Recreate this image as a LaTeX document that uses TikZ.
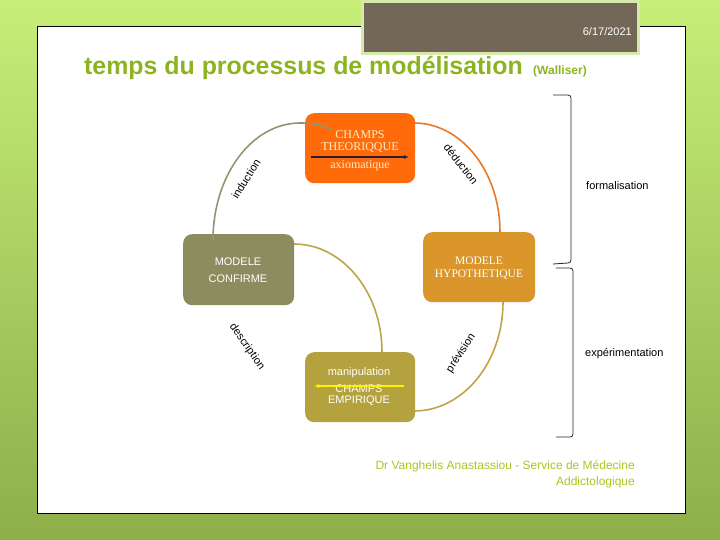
\documentclass[tikz,border=0pt]{standalone}
\usepackage{fontspec}
\setmainfont{Liberation Sans}
\newfontfamily\serifb{Liberation Serif}
\usetikzlibrary{arrows.meta}
\definecolor{bgtop}{HTML}{C6EE78}
\definecolor{bgbot}{HTML}{8EAE4A}
\definecolor{brownbox}{HTML}{736857}
\definecolor{hdrborder}{HTML}{D6E8AA}
\definecolor{titlegreen}{HTML}{8CB420}
\definecolor{footgreen}{HTML}{A8C81E}
\definecolor{orangebox}{HTML}{FF6A0A}
\definecolor{confbox}{HTML}{8C8C5E}
\definecolor{hypbox}{HTML}{DA962A}
\definecolor{empbox}{HTML}{B4A23E}
\definecolor{arcgray}{HTML}{8E9870}
\definecolor{arcorange}{HTML}{E67A2A}
\definecolor{arcgold}{HTML}{C0A448}
\definecolor{theotext}{HTML}{FFECC8}
\definecolor{axiarrow}{HTML}{281E3C}
\tikzset{
  box/.style={rounded corners=9pt, minimum width=110pt, minimum height=70pt, draw=none, align=center, inner sep=0pt},
  arcline/.style={line width=1.6pt},
  lbl/.style={font=\fontsize{11}{12}\selectfont, inner sep=0pt},
  brk/.style={line width=0.8pt, black!85}
}
\begin{document}
\begin{tikzpicture}[x=1pt,y=-1pt]
\useasboundingbox (0,0) rectangle (720,540);
\shade[top color=bgtop, bottom color=bgbot] (0,0) rectangle (720,540);
% white panel
\node[draw=black, line width=0.8pt, fill=white, minimum width=648pt, minimum height=487pt, inner sep=0pt, anchor=north west] (panel) at (37,26) {};
% brown header box
\node[draw=hdrborder, line width=3pt, fill=brownbox, minimum width=276pt, minimum height=52pt, inner sep=0pt, anchor=north west] (hdr) at (361,0) {};
\node[anchor=base east, text=white, font=\fontsize{11}{12}\selectfont, inner sep=0pt] (date) at (632,36) {6/17/2021};
% title
\node[anchor=base west, text=titlegreen, font=\fontsize{24.9}{28}\selectfont\bfseries, inner sep=0pt] (title) at (84,75) {temps du processus de modélisation};
\node[anchor=base west, text=titlegreen, font=\fontsize{12}{14}\selectfont\bfseries, inner sep=0pt] (wal) at (533,75) {(Walliser)};
% boxes
\node[box, fill=orangebox, anchor=north west] (theo) at (305,113) {};
\node[box, fill=confbox, minimum width=111pt, minimum height=71pt, anchor=north west] (conf) at (183,234) {};
\node[box, fill=hypbox, minimum width=112pt, anchor=north west] (hyp) at (423,232) {};
\node[box, fill=empbox, anchor=north west] (emp) at (305,352) {};
% arcs
\draw[arcline, arcgray] (332,130) .. controls (320,124) and (312,123) .. (300,123) arc[start angle=-90, end angle=-180, x radius=87, y radius=117];
\draw[arcline, arcorange] (414,123) arc[start angle=-90, end angle=0, x radius=86, y radius=109];
\draw[arcline, arcgold] (294,244) arc[start angle=-90, end angle=0, x radius=88, y radius=108];
\draw[arcline, arcgold] (503,302) arc[start angle=0, end angle=90, x radius=89, y radius=109];
% box texts
\node[text=theotext, font=\serifb\fontsize{12}{12.5}\selectfont, align=center, inner sep=0pt] (theot) at (360,141.5) {CHAMPS\\THEORIQQUE};
\node[text=theotext, font=\serifb\fontsize{12}{12}\selectfont, inner sep=0pt] (axio) at (360,166) {axiomatique};
\coordinate (axA) at (311,157);
\coordinate (axB) at (409,157);
\draw[line width=1.3pt, axiarrow, -{Latex[length=5pt,width=4pt]}] (axA) -- (axB);

\node[text=white, font=\fontsize{11}{17}\selectfont, align=center, inner sep=0pt] (conft) at (238,270) {MODELE\\CONFIRME};
\node[text=white, font=\serifb\fontsize{11.5}{12.5}\selectfont, align=center, inner sep=0pt] (hypt) at (479,268) {MODELE\\HYPOTHETIQUE};

\node[text=white, font=\fontsize{11}{12}\selectfont, inner sep=0pt] (manip) at (359,373) {manipulation};
\node[text=white, font=\fontsize{11}{11}\selectfont, align=center, inner sep=0pt] (empt) at (359,395) {CHAMPS\\EMPIRIQUE};
\coordinate (ymA) at (404,386);
\coordinate (ymB) at (314,386);
\draw[line width=1.5pt, yellow, -{Latex[length=5pt,width=4pt]}] (ymA) -- (ymB);

% arc labels
\node[lbl, rotate=58] (ind) at (246,179) {induction};
\node[lbl, rotate=-52] (ded) at (461,164) {déduction};
\node[lbl, rotate=-55] (desc) at (247,347) {description};
\node[lbl, rotate=57] (prev) at (461,353) {prévision};

% brackets
\draw[brk] (553,95) -- (568,95) to[out=0,in=90] (571,98) -- (571,260) to[out=-90,in=0] (568,263) -- (553,264);
\draw[brk] (556,268) -- (570,268) to[out=0,in=90] (573,271) -- (573,434) to[out=-90,in=0] (570,437) -- (556,437);
\node[lbl, anchor=west] (form) at (586,186) {formalisation};
\node[lbl, anchor=west] (exper) at (585,354) {expérimentation};

% footer
\node[text=footgreen, font=\fontsize{12}{16}\selectfont, align=right, anchor=north east, inner sep=0pt] (foot) at (635,460) {Dr Vanghelis Anastassiou - Service de Médecine\\Addictologique};
\end{tikzpicture}
\end{document}
